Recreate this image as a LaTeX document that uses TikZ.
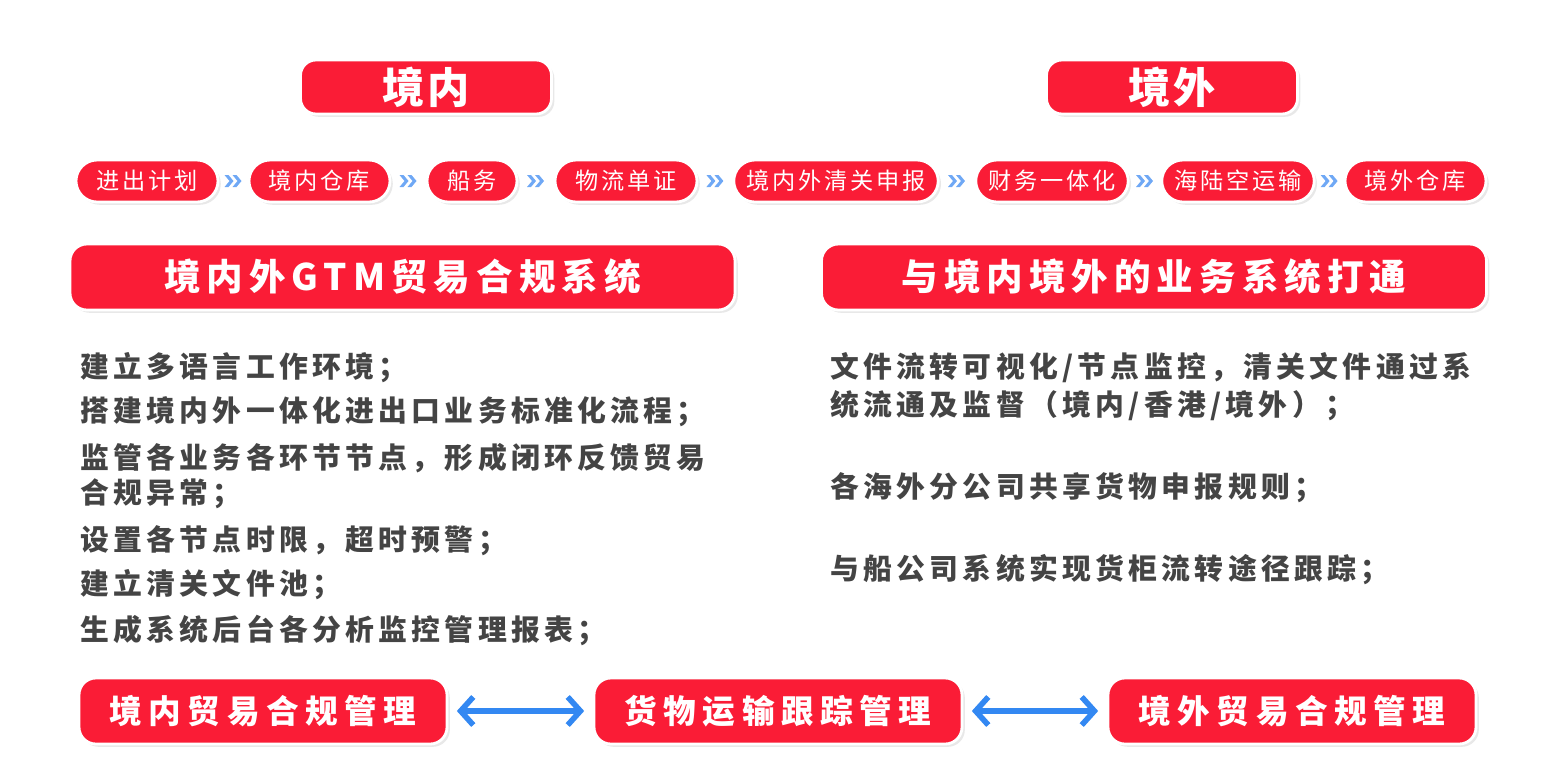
\documentclass[tikz,border=0pt]{standalone}
\usepackage{fontspec}
\setmainfont{Noto Sans CJK SC}
\newfontfamily\cjk{Noto Sans CJK SC}
\usetikzlibrary{positioning,shadows,arrows.meta}
\definecolor{tagred}{HTML}{FA1C36}
\definecolor{arrblue}{HTML}{3388F2}
\definecolor{chevblue}{HTML}{6FA8F5}
\definecolor{bodygray}{HTML}{444444}
\newcommand{\chevs}{\fill[chevblue] (-9,-6) -- (-5,-6) -- (0,0) -- (-5,6) -- (-9,6) -- (-4,0) -- cycle;
        			\fill[chevblue] (-1,-6) -- (3,-6) -- (8,0) -- (3,6) -- (-1,6) -- (4,0) -- cycle;}
\tikzset{
	redbox/.style={fill=tagred, draw=white, line width=2pt, text=white,
		drop shadow={shadow xshift=2pt, shadow yshift=-2pt, opacity=0.18}},
	title/.style={redbox, rounded corners=11pt, minimum width=251*0.025cm, minimum height=54*0.025cm,
		font=\cjk\bfseries\fontsize{30}{31}\selectfont\addfontfeature{LetterSpace=8}},
	pill/.style={redbox, rounded corners=15pt, minimum height=42*0.025cm, inner xsep=9pt,
		font=\cjk\fontsize{16.5}{18}\selectfont\addfontfeature{LetterSpace=12}},
	banner/.style={redbox, rounded corners=12pt, minimum width=665*0.025cm, minimum height=66*0.025cm,
		font=\cjk\bfseries\fontsize{26}{28}\selectfont\addfontfeature{LetterSpace=16.5}},
	mgmt/.style={redbox, rounded corners=12pt, minimum width=368*0.025cm, minimum height=66*0.025cm,
		font=\cjk\bfseries\fontsize{23.2}{25}\selectfont\addfontfeature{LetterSpace=20}},
	item/.style={anchor=west, inner sep=0pt, text=bodygray,
		font=\cjk\bfseries\fontsize{20.5}{22}\selectfont\addfontfeature{LetterSpace=15}},
	link/.style={arrblue, line width=4pt, {Straight Barb[length=9pt, width=20pt, line width=4pt]}-{Straight Barb[length=9pt, width=20pt, line width=4pt]}}
}

\begin{document}
\begin{tikzpicture}[x=0.025cm, y=-0.025cm]
	\useasboundingbox (0,0) rectangle (1568,770);

	% headings
	\node[title] (inner) at (426,87) {境内};
	\node[title] (outer) at (1172,87) {境外};

	% process row
	\node[pill, minimum width=142*0.025cm] (p1) at (147,181) {进出计划};
	\node[pill, minimum width=141*0.025cm] (p2) at (319.5,181) {境内仓库};
	\node[pill, minimum width=90*0.025cm] (p3) at (472,181) {船务};
	\node[pill, minimum width=142*0.025cm] (p4) at (626,181) {物流单证};
	\node[pill, minimum width=202*0.025cm] (p5) at (836,181) {境内外清关申报};
	\node[pill, minimum width=150*0.025cm] (p6) at (1052,181) {财务一体化};
	\node[pill, minimum width=150*0.025cm] (p7) at (1238,181) {海陆空运输};
	\node[pill, minimum width=141*0.025cm] (p8) at (1415.5,181) {境外仓库};

	\foreach \a/\b in {p1/p2, p2/p3, p3/p4, p4/p5, p5/p6, p6/p7, p7/p8}{
		\path (\a.east) -- (\b.west) coordinate[midway] (m\a);
		\begin{scope}[shift={(m\a)}]
			\chevs
		\end{scope}
	}

	% two columns
	\node[banner] (gtm) at (402.5,277) {境内外GTM贸易合规系统};
	\node[banner] (link) at (1154,277) {与境内境外的业务系统打通};

	\node[item] (l1) at (80,368) {建立多语言工作环境；};
	\node[item] (l2) at (80,412) {搭建境内外一体化进出口业务标准化流程；};
	\node[item] (l3) at (80,458) {监管各业务各环节节点，形成闭环反馈贸易};
	\node[item] (l4) at (80,494) {合规异常；};
	\node[item] (l5) at (80,541) {设置各节点时限，超时预警；};
	\node[item] (l6) at (80,585) {建立清关文件池；};
	\node[item] (l7) at (80,630) {生成系统后台各分析监控管理报表；};

	\node[item] (r1) at (830,368) {文件流转可视化/节点监控，清关文件通过系};
	\node[item] (r2) at (830,406) {统流通及监督（境内/香港/境外）；};
	\node[item] (r3) at (830,488) {各海外分公司共享货物申报规则；};
	\node[item] (r4) at (830,570) {与船公司系统实现货柜流转途径跟踪；};

	% bottom
	\node[mgmt] (dom) at (263,711) {境内贸易合规管理};
	\node[mgmt] (cargo) at (778,711) {货物运输跟踪管理};
	\node[mgmt] (abr) at (1292,711) {境外贸易合规管理};

	\draw[link] ([xshift=6pt]dom.east) -- ([xshift=-6pt]cargo.west);
	\draw[link] ([xshift=6pt]cargo.east) -- ([xshift=-6pt]abr.west);

\end{tikzpicture}
\end{document}
